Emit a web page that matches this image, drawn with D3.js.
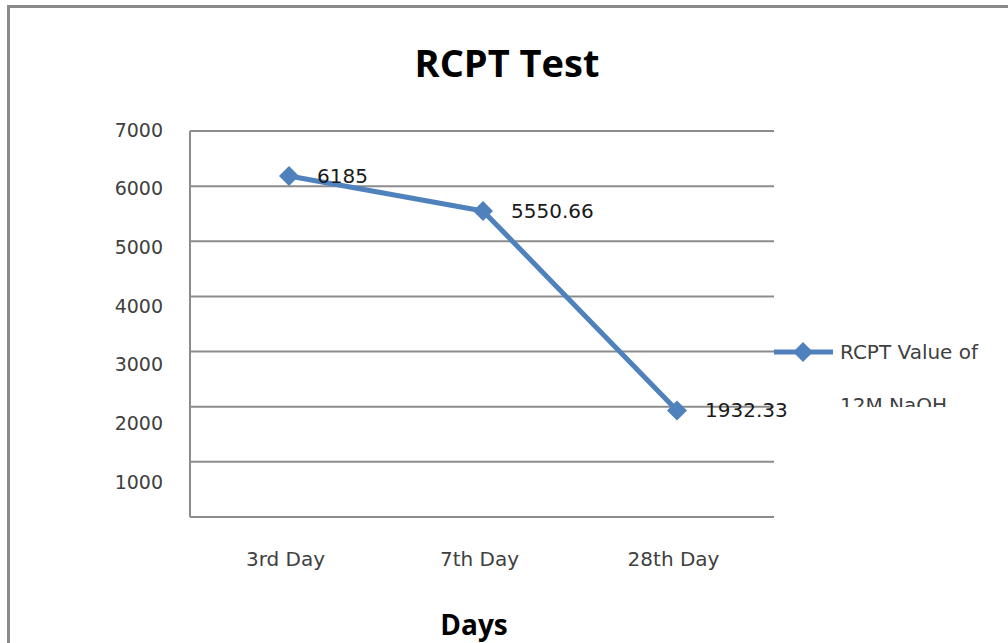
<!DOCTYPE html>
<html>
<head>
<meta charset="utf-8">
<script src="https://cdn.jsdelivr.net/npm/d3@7"></script>
<style>
  body { margin: 0; background: #fff; }
  svg { display: block; }
</style>
</head>
<body>
<svg></svg>
<script>
let days = ["3rd Day", "7th Day", "28th Day"]
let rcptValues = [6185, 5550.66, 1932.33]
let valueLabels = ["6185", "5550.66", "1932.33"]
let yTicks = [0, 1000, 2000, 3000, 4000, 5000, 6000, 7000]
let yTickLabels = [1000, 2000, 3000, 4000, 5000, 6000, 7000]
let seriesName = ["RCPT Value of", "12M NaOH"]

let width = 1008
let height = 643
let plotLeft = 190
let plotRight = 774
let plotTop = 131
let plotBottom = 517
let blue = "#4f81bd"

let svg = d3.select("svg").attr("width", width).attr("height", height)

let xScale, yScale, labelScale

let drawFrame = () => {
    svg.append("rect")
       .attr("x", 8.5).attr("y", 6.5)
       .attr("width", width + 20).attr("height", height + 20)
       .attr("fill", "#fff")
       .attr("stroke", "#8a8a8a")
       .attr("stroke-width", 3)

    svg.append("text")
       .attr("x", 507).attr("y", 77)
       .attr("text-anchor", "middle")
       .style("font-family", "'Open Sans'")
       .style("font-weight", "bold")
       .style("font-size", "38px")
       .attr("fill", "#000")
       .text("RCPT Test")

    svg.append("text")
       .attr("x", 474).attr("y", 635)
       .attr("text-anchor", "middle")
       .style("font-family", "'Open Sans'")
       .style("font-weight", "bold")
       .style("font-size", "28px")
       .attr("fill", "#000")
       .text("Days")
}

let generateScales = () => {
    xScale = d3.scalePoint()
               .domain(days)
               .range([192, plotRight])
               .padding(0.5)

    yScale = d3.scaleLinear()
               .domain([0, 7000])
               .range([plotBottom, plotTop])

    // excel spaced the value labels a bit wider than the gridlines
    labelScale = d3.scaleLinear()
                   .domain([1000, 7000])
                   .range([482, 130])
}

let drawGrid = () => {
    svg.append("g")
       .selectAll("line")
       .data(yTicks)
       .enter()
       .append("line")
       .attr("x1", plotLeft).attr("x2", plotRight)
       .attr("y1", (d) => yScale(d)).attr("y2", (d) => yScale(d))
       .attr("stroke", "#8c8c8c")
       .attr("stroke-width", 2)

    svg.append("line")
       .attr("x1", plotLeft).attr("x2", plotLeft)
       .attr("y1", plotTop).attr("y2", plotBottom)
       .attr("stroke", "#8c8c8c")
       .attr("stroke-width", 2)
}

let generateAxes = () => {
    let yAxis = d3.axisLeft(labelScale)
                  .tickValues(yTickLabels)
                  .tickFormat(d3.format("d"))
                  .tickSize(0).tickPadding(0)
    let yg = svg.append("g")
                .attr("transform", "translate(163,0)")
                .call(yAxis)
    yg.select(".domain").remove()
    yg.selectAll("text")
      .style("font-family", "'DejaVu Sans'")
      .style("font-size", "19px")
      .attr("fill", "#404040")

    let xAxis = d3.axisBottom(xScale).tickSize(0).tickPadding(0)
    let xg = svg.append("g")
                .attr("transform", "translate(-4,552)")
                .call(xAxis)
    xg.select(".domain").remove()
    xg.selectAll("text")
      .style("font-family", "'DejaVu Sans'")
      .style("font-size", "20px")
      .attr("fill", "#404040")
}

// square turned 45 degrees, like the excel diamond marker
let diamond = d3.symbol().type(d3.symbolSquare).size(200)

let drawSeries = () => {
    let line = d3.line()
                 .x((d, i) => xScale(days[i]))
                 .y((d) => yScale(d))

    svg.append("path")
       .datum(rcptValues)
       .attr("d", line)
       .attr("fill", "none")
       .attr("stroke", blue)
       .attr("stroke-width", 5)
       .attr("stroke-linejoin", "round")

    svg.selectAll(".marker")
       .data(rcptValues)
       .enter()
       .append("path")
       .attr("class", "marker")
       .attr("d", diamond)
       .attr("transform", (d, i) => "translate(" + xScale(days[i]) + "," + yScale(d) + ") rotate(45)")
       .attr("fill", blue)

    svg.selectAll(".value-label")
       .data(rcptValues)
       .enter()
       .append("text")
       .attr("class", "value-label")
       .attr("x", (d, i) => xScale(days[i]) + 28)
       .attr("y", (d) => yScale(d) + 7)
       .style("font-family", "'DejaVu Sans'")
       .style("font-size", "20px")
       .attr("fill", "#1a1a1a")
       .text((d, i) => valueLabels[i])
}

let drawLegend = () => {
    let lg = svg.append("g")

    lg.append("clipPath").attr("id", "legclip")
      .append("rect")
      .attr("x", 770).attr("y", 330).attr("width", 238).attr("height", 77)

    lg.append("line")
      .attr("x1", 774).attr("x2", 833)
      .attr("y1", 352).attr("y2", 352)
      .attr("stroke", blue)
      .attr("stroke-width", 5)

    lg.append("path")
      .attr("d", diamond)
      .attr("transform", "translate(803,352) rotate(45)")
      .attr("fill", blue)

    lg.append("g")
      .attr("clip-path", "url(#legclip)")
      .selectAll("text")
      .data(seriesName)
      .enter()
      .append("text")
      .attr("x", 840)
      .attr("y", (d, i) => 359 + i * 53)
      .style("font-family", "'DejaVu Sans'")
      .style("font-size", "20px")
      .attr("fill", "#404040")
      .text((d) => d)
}

drawFrame()
generateScales()
drawGrid()
generateAxes()
drawSeries()
drawLegend()
</script>
</body>
</html>
